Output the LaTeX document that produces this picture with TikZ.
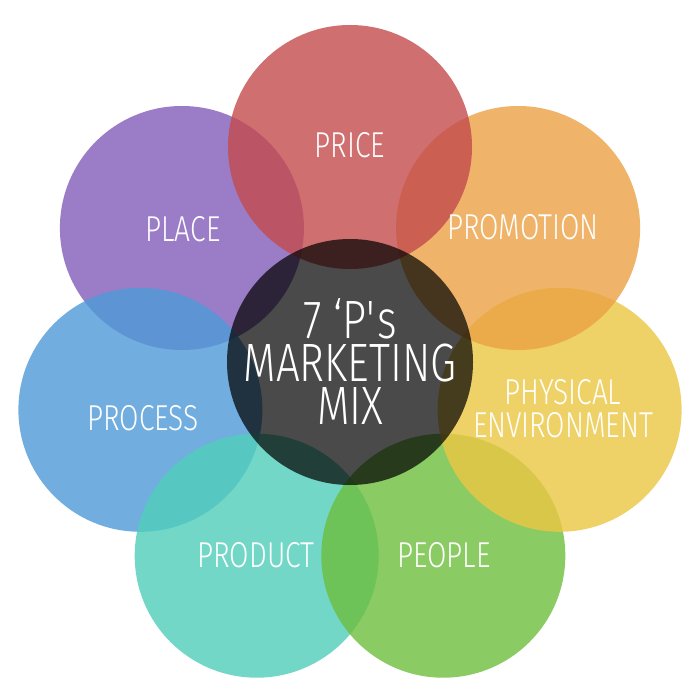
\documentclass[tikz,border=0pt]{standalone}
\usepackage{fontspec}
\setmainfont{Fira Sans Light}[FakeStretch=0.78]
\definecolor{cplace}{RGB}{130,92,186}
\definecolor{cprice}{RGB}{195,75,76}
\definecolor{cpromo}{RGB}{235,162,69}
\definecolor{cphys}{RGB}{236,199,66}
\definecolor{cpeople}{RGB}{109,190,61}
\definecolor{cproduct}{RGB}{80,206,186}
\definecolor{cprocess}{RGB}{78,154,216}
\begin{document}
\begin{tikzpicture}[x=1pt,y=-1pt,
  petal/.style={circle,minimum size=244pt,inner sep=0pt,fill opacity=0.8,draw=none},
  hub/.style={circle,minimum size=246pt,inner sep=0pt,fill=black,fill opacity=0.71,draw=none},
  lbl/.style={text=white,font=\fontsize{36}{36}\selectfont,anchor=base,inner sep=0pt,text height=25pt,text depth=0pt},
  big/.style={text=white,font=\fontsize{54}{43}\selectfont,align=center,anchor=south,inner sep=0pt,text depth=0pt}]
\useasboundingbox (0,0) rectangle (700,700);
\fill[white] (0,0) rectangle (700,700);
\node[petal,fill=cplace]   (place)   at (181.9,228.0) {};
\node[petal,fill=cprocess] (process) at (140.4,409.8) {};
\node[petal,fill=cproduct] (product) at (256.7,555.7) {};
\node[petal,fill=cpeople]  (people)  at (443.3,555.7) {};
\node[petal,fill=cphys]    (phys)    at (559.6,409.8) {};
\node[petal,fill=cpromo]   (promo)   at (518.1,228.0) {};
\node[petal,fill=cprice]   (price)   at (350,147) {};
\node[hub] (hub) at (350,362) {};
\node[lbl] (tprice)   at (350,158) {PRICE};
\node[lbl] (tplace)   at (183,241) {PLACE};
\node[lbl] (tpromo)   at (523,240) {PROMOTION};
\node[lbl] (tphys1)   at (563,404) {PHYSICAL};
\node[lbl] (tphys2)   at (563,437) {ENVIRONMENT};
\node[lbl] (tprocess) at (143,430) {PROCESS};
\node[lbl] (tproduct) at (256,567) {PRODUCT};
\node[lbl] (tpeople)  at (444,567) {PEOPLE};
\node[big] (title) at (350,425) {7 ‘P\textquotesingle s\\MARKETING\\MIX};
\end{tikzpicture}
\end{document}
